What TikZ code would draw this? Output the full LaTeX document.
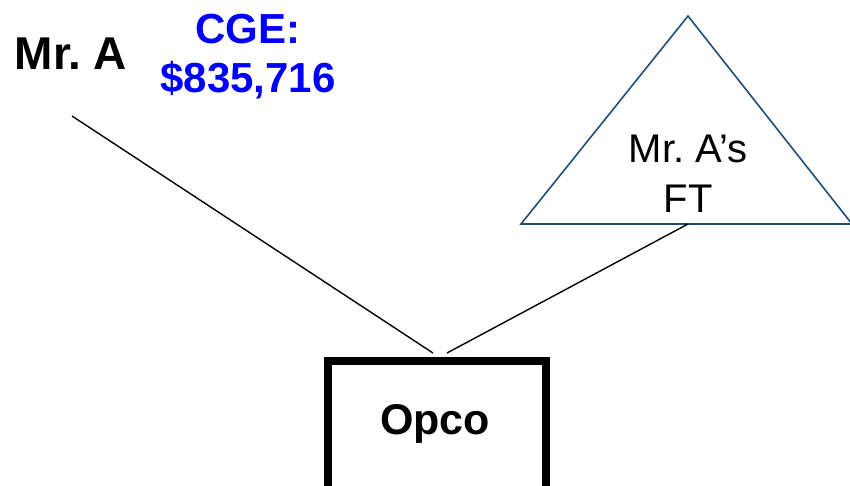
\documentclass[tikz,border=0pt]{standalone}
\usepackage{fontspec}
\setmainfont{Liberation Sans}
\frenchspacing
\begin{document}
\begin{tikzpicture}[x=1pt,y=-1pt,
  lbl/.style={inner sep=0pt,align=center,font=\fontsize{42}{50}\selectfont},
  bold lbl/.style={lbl,font=\fontsize{46}{50}\selectfont\bfseries},
  link/.style={draw=black,line width=1.4pt},
  tri/.style={draw=trianglecol,line width=1.6pt,line join=miter}]
\definecolor{trianglecol}{RGB}{31,78,121}
\definecolor{cgeblue}{RGB}{0,0,255}
\useasboundingbox (0,0) rectangle (850,485);
\clip (0,0) rectangle (850,485);
% labels
\node[bold lbl] (mra) at (71,54) {\frenchspacing Mr. A};
\node[lbl,font=\fontsize{42}{49}\selectfont\bfseries,text=cgeblue] (cge) at (248,57) {CGE:\\\$835,716};
% trust triangle
\coordinate (apex) at (688,16);
\coordinate (bl) at (521,224);
\coordinate (br) at (852,224);
\coordinate (basemid) at (688,224);
\draw[tri] (bl) -- (apex) -- (br) -- cycle;
\node[lbl,font=\fontsize{40}{50}\selectfont] (ft) at (688,174) {\frenchspacing Mr. A’s\\FT};
% Opco box
\node[draw=black,line width=7.5pt,minimum width=218pt,minimum height=160pt,inner sep=0pt,anchor=north] (opco) at (437,357) {};
\node[bold lbl,font=\fontsize{43}{50}\selectfont\bfseries] (opcolbl) at (435,424) {Opco};
% connectors
\coordinate (mrafoot) at (72,116);
\coordinate (opcoL) at (433,353);
\coordinate (opcoR) at (447,353);
\draw[link] (mrafoot) -- (opcoL);
\draw[link] (basemid) -- (opcoR);
\end{tikzpicture}
\end{document}
